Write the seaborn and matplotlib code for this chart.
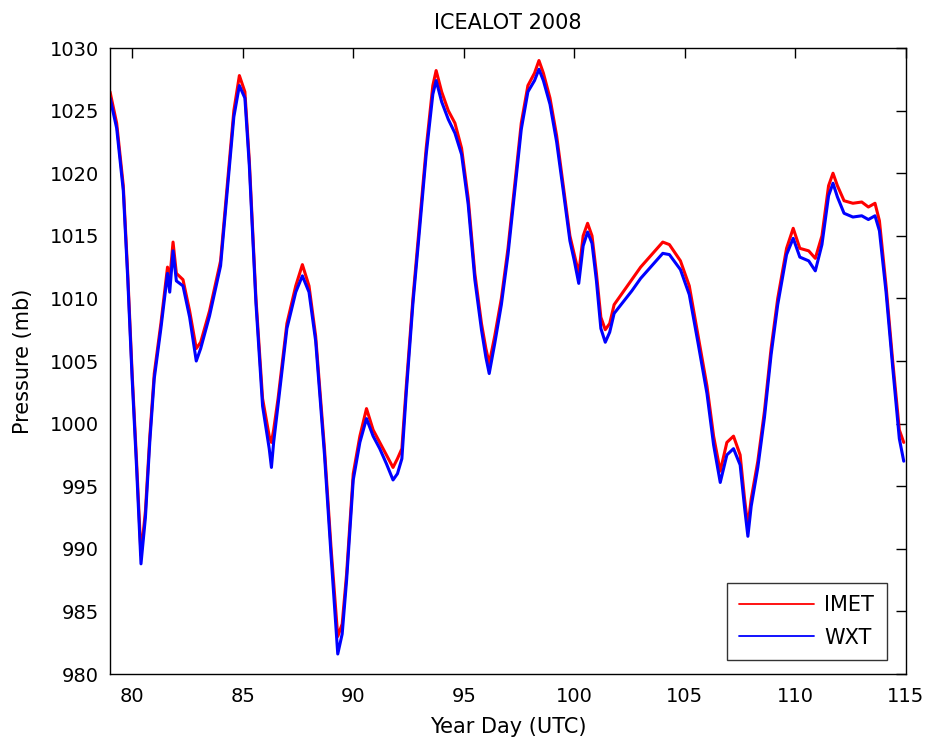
import matplotlib
matplotlib.use("Agg")
import matplotlib.pyplot as plt
import seaborn as sns
import pandas as pd

# ---- data ----
days = [79.0, 79.3, 79.6, 79.8, 80.0, 80.2, 80.4, 80.6, 80.8, 81.0, 81.3, 81.6, 81.7, 81.85,
        82.0, 82.3, 82.6, 82.9, 83.1, 83.5, 84.0, 84.3, 84.6, 84.85, 85.1, 85.3, 85.6, 85.9,
        86.2, 86.3, 86.4, 86.6, 87.0, 87.4, 87.7, 88.0, 88.3, 88.7, 89.0, 89.3, 89.5, 89.7,
        90.0, 90.3, 90.6, 90.9, 91.2, 91.5, 91.8, 92.0, 92.2, 92.4, 92.7, 93.0, 93.3, 93.6,
        93.75, 94.0, 94.3, 94.6, 94.9, 95.2, 95.5, 95.8, 96.0, 96.15, 96.4, 96.7, 97.0, 97.3,
        97.6, 97.9, 98.2, 98.4, 98.6, 98.9, 99.2, 99.5, 99.8, 100.0, 100.2, 100.4, 100.6,
        100.8, 101.0, 101.2, 101.4, 101.6, 101.8, 102.2, 102.6, 103.0, 103.5, 104.0, 104.3,
        104.8, 105.2, 105.6, 106.0, 106.3, 106.6, 106.9, 107.2, 107.5, 107.7, 107.85, 108.0,
        108.3, 108.6, 108.9, 109.2, 109.6, 109.9, 110.2, 110.6, 110.9, 111.2, 111.5, 111.7,
        111.9, 112.2, 112.6, 113.0, 113.3, 113.6, 113.8, 114.1, 114.4, 114.7, 114.9]

imet = [1026.5, 1024.0, 1019.0, 1012.0, 1004.0, 997.0, 989.5, 993.0, 999.0, 1004.0, 1008.0,
        1012.5, 1011.5, 1014.5, 1012.0, 1011.5, 1009.0, 1006.0, 1006.5, 1009.0, 1013.0,
        1019.0, 1025.0, 1027.8, 1026.5, 1021.0, 1010.0, 1002.0, 999.0, 998.5, 999.5, 1002.0,
        1008.0, 1011.0, 1012.7, 1011.0, 1007.0, 998.0, 990.0, 983.0, 984.0, 988.0, 996.0,
        999.0, 1001.2, 999.5, 998.5, 997.5, 996.5, 997.2, 998.0, 1003.0, 1010.0, 1016.0,
        1022.0, 1027.0, 1028.2, 1026.5, 1025.0, 1024.0, 1022.0, 1018.0, 1012.0, 1008.0,
        1006.0, 1004.8, 1007.0, 1010.0, 1014.0, 1019.0, 1024.0, 1027.0, 1028.0, 1029.0,
        1028.0, 1026.0, 1023.0, 1019.0, 1015.0, 1013.5, 1012.0, 1015.0, 1016.0, 1015.0,
        1012.0, 1008.5, 1007.5, 1008.0, 1009.5, 1010.5, 1011.5, 1012.5, 1013.5, 1014.5,
        1014.3, 1013.0, 1011.0, 1007.0, 1003.0, 999.0, 996.2, 998.5, 999.0, 997.5, 994.0,
        991.8, 994.0, 997.0, 1001.0, 1006.0, 1010.0, 1014.0, 1015.6, 1014.0, 1013.8, 1013.2,
        1015.0, 1019.0, 1020.0, 1019.0, 1017.8, 1017.6, 1017.7, 1017.3, 1017.6, 1016.2,
        1011.0, 1005.0, 999.5, 998.5]

wxt = [1026.0, 1023.6, 1018.6, 1011.6, 1003.6, 996.5, 988.8, 992.5, 998.6, 1003.6, 1007.6,
       1012.0, 1010.5, 1013.8, 1011.4, 1011.0, 1008.5, 1005.0, 1006.0, 1008.6, 1012.6,
       1018.6, 1024.5, 1027.0, 1026.0, 1020.6, 1009.6, 1001.4, 998.0, 996.5, 998.5, 1001.5,
       1007.6, 1010.5, 1011.8, 1010.5, 1006.6, 997.5, 989.4, 981.6, 983.2, 987.5, 995.5,
       998.5, 1000.4, 999.0, 998.0, 996.8, 995.5, 996.0, 997.2, 1002.5, 1009.6, 1015.5,
       1021.5, 1026.3, 1027.4, 1025.7, 1024.3, 1023.2, 1021.5, 1017.5, 1011.5, 1007.5,
       1005.3, 1004.0, 1006.4, 1009.5, 1013.5, 1018.5, 1023.5, 1026.5, 1027.4, 1028.3,
       1027.4, 1025.5, 1022.5, 1018.6, 1014.6, 1013.0, 1011.2, 1014.2, 1015.3, 1014.4,
       1011.4, 1007.6, 1006.5, 1007.3, 1008.8, 1009.7, 1010.6, 1011.6, 1012.6, 1013.6,
       1013.5, 1012.3, 1010.3, 1006.4, 1002.4, 998.3, 995.3, 997.5, 998.0, 996.7, 993.3,
       991.0, 993.4, 996.5, 1000.5, 1005.5, 1009.5, 1013.5, 1014.8, 1013.3, 1013.0, 1012.2,
       1014.3, 1018.2, 1019.2, 1018.1, 1016.8, 1016.5, 1016.6, 1016.3, 1016.6, 1015.4,
       1010.5, 1004.5, 998.8, 997.0]

series_names = ["IMET", "WXT"]
colors = {"IMET": "#ff0000", "WXT": "#0000ff"}
title_text = "ICEALOT 2008"
x_label = "Year Day (UTC)"
y_label = "Pressure (mb)"
x_ticks = [80, 85, 90, 95, 100, 105, 110, 115]
y_ticks = [980, 985, 990, 995, 1000, 1005, 1010, 1015, 1020, 1025, 1030]

df = pd.DataFrame({
    "day": days + days,
    "pressure": imet + wxt,
    "sensor": [series_names[0]] * len(days) + [series_names[1]] * len(days),
})

sns.set_style("white")
plt.rcParams["font.family"] = ["DejaVu Sans"]
plt.rcParams["font.size"] = 14
plt.rcParams["text.color"] = "black"
plt.rcParams["axes.labelcolor"] = "black"

fig = plt.figure(figsize=(9.27, 7.42), dpi=100)
ax = fig.add_axes([0.1187, 0.0916, 0.8586, 0.8437])

sns.lineplot(data=df, x="day", y="pressure", hue="sensor", palette=colors,
             hue_order=series_names, linewidth=2.2, ax=ax, sort=False,
             estimator=None, legend=True)

ax.set_xlim(79, 115)
ax.set_ylim(980, 1030)
ax.set_xticks(x_ticks)
ax.set_yticks(y_ticks)
ax.tick_params(direction="in", length=7, width=1, top=True, right=True,
               labelsize=14, colors="black")
ax.tick_params(axis="x", pad=9)
ax.tick_params(axis="y", pad=8)
for s in ax.spines.values():
    s.set_visible(True)
    s.set_color("black")
    s.set_linewidth(1.0)

ax.set_title(title_text, fontsize=15, pad=14, color="black")
ax.set_xlabel(x_label, fontsize=15, labelpad=8, color="black")
ax.set_ylabel(y_label, fontsize=15, labelpad=12, color="black")

leg = ax.legend(loc="lower right", frameon=True, fancybox=False, fontsize=15,
                edgecolor="black", handlelength=3.6, borderpad=0.6,
                borderaxespad=0.0, labelspacing=0.6, handletextpad=0.5,
                bbox_to_anchor=(0.976, 0.0224))
leg.get_frame().set_linewidth(1.0)
for t in leg.get_texts():
    t.set_color("black")
for h in leg.get_lines():
    h.set_linewidth(1.3)

fig.savefig("out.png", dpi=100, facecolor="white")
